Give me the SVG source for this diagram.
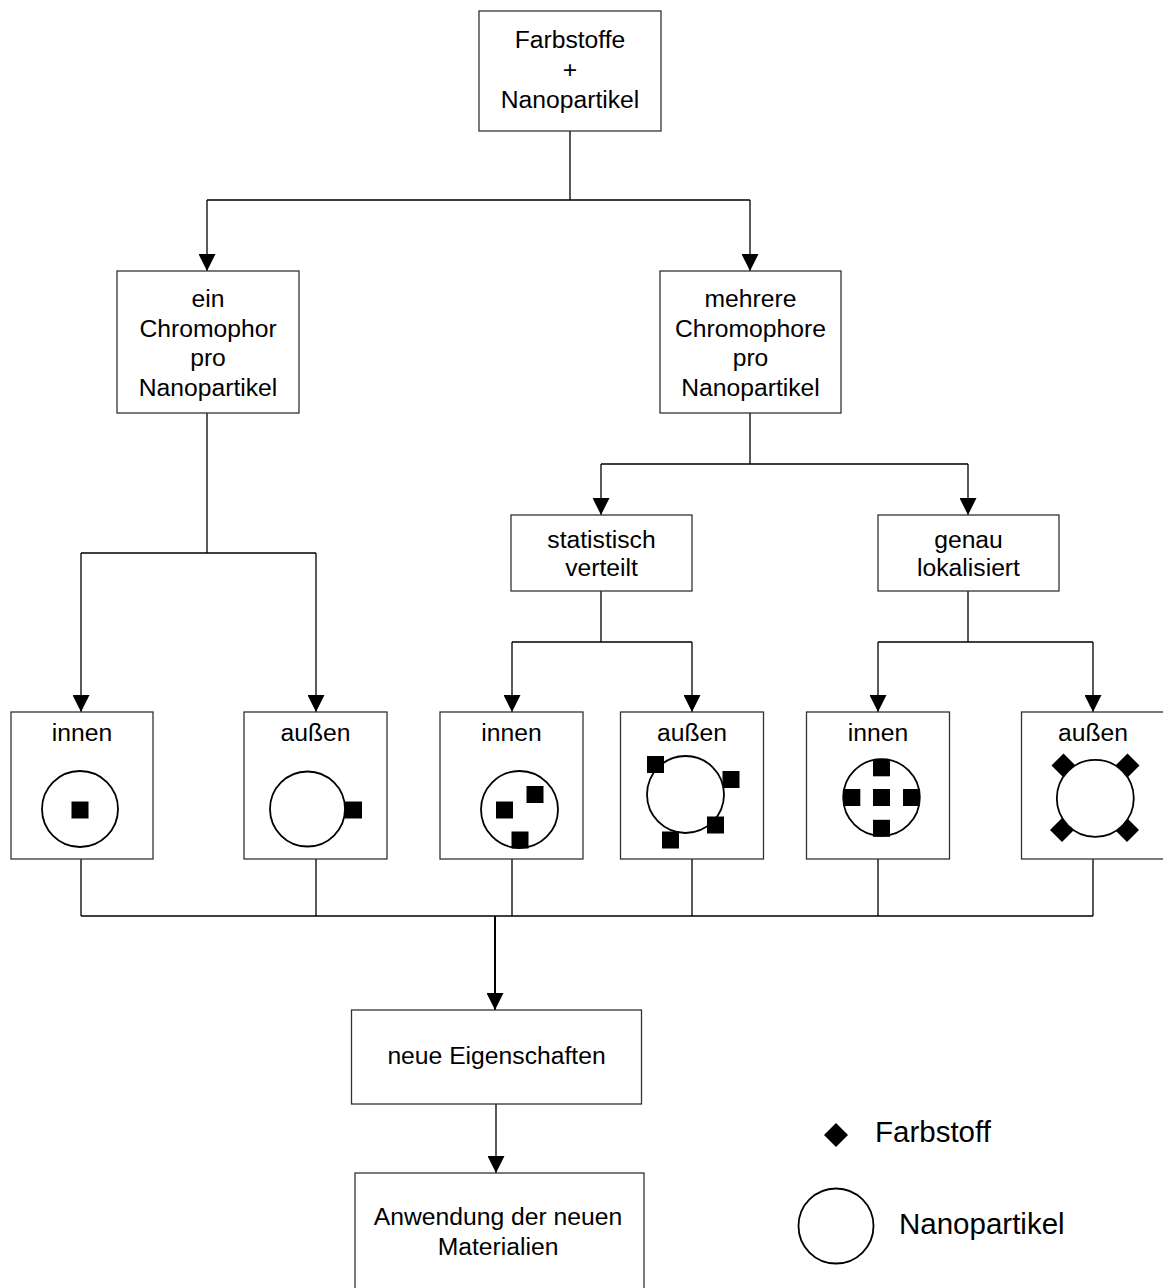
<svg xmlns="http://www.w3.org/2000/svg" width="1163" height="1288" viewBox="0 0 1163 1288">
  <defs>
    <style>
      .box { fill: #fff; stroke: #333; stroke-width: 1.3; }
      .lbl { font-family: "Liberation Sans", Arial, sans-serif; font-size: 24.7px; fill: #000; text-anchor: middle; }
      .leg { font-family: "Liberation Sans", Arial, sans-serif; font-size: 29.5px; fill: #000; }
      .wire { fill: none; stroke: #000; stroke-width: 1.3; }
      .bold { fill: none; stroke: #000; stroke-width: 2; }
      .np { fill: #fff; stroke: #000; stroke-width: 1.8; }
      .dye { fill: #000; }
    </style>
    <marker id="arrow" viewBox="0 0 17 17" refX="17" refY="8.5" markerWidth="17" markerHeight="17" markerUnits="userSpaceOnUse" orient="auto">
      <path d="M0,0 L17,8.5 L0,17 Z" fill="#000"/>
    </marker>
  </defs>
  <rect width="1163" height="1288" fill="#fff"/>

  <!-- connectors -->
  <g id="connectors">
    <path class="wire" d="M570,131 V200 M207,200 H750"/>
    <path class="wire" d="M207,200 V271" marker-end="url(#arrow)"/>
    <path class="wire" d="M750,200 V271" marker-end="url(#arrow)"/>

    <path class="wire" d="M207,413 V553 M81,553 H316"/>
    <path class="wire" d="M81,553 V712" marker-end="url(#arrow)"/>
    <path class="wire" d="M316,553 V712" marker-end="url(#arrow)"/>

    <path class="wire" d="M750,413 V464 M601,464 H968"/>
    <path class="wire" d="M601,464 V515" marker-end="url(#arrow)"/>
    <path class="wire" d="M968,464 V515" marker-end="url(#arrow)"/>

    <path class="wire" d="M601,591 V642 M512,642 H692"/>
    <path class="wire" d="M512,642 V712" marker-end="url(#arrow)"/>
    <path class="wire" d="M692,642 V712" marker-end="url(#arrow)"/>

    <path class="wire" d="M968,591 V642 M878,642 H1093"/>
    <path class="wire" d="M878,642 V712" marker-end="url(#arrow)"/>
    <path class="wire" d="M1093,642 V712" marker-end="url(#arrow)"/>

    <path class="wire" d="M81,859 V916 M316,859 V916 M512,859 V916 M692,859 V916 M878,859 V916 M1093,859 V916 M81,916 H1093"/>
    <path class="bold" d="M495,916 V1010" marker-end="url(#arrow)"/>
    <path class="wire" d="M496,1104 V1173" marker-end="url(#arrow)"/>
  </g>

  <!-- start -->
  <g id="start">
    <rect class="box" x="479" y="11" width="182" height="120"/>
    <text class="lbl" x="570" y="48">Farbstoffe</text>
    <text class="lbl" x="570" y="78">+</text>
    <text class="lbl" x="570" y="108">Nanopartikel</text>
  </g>

  <g id="single">
    <rect class="box" x="117" y="271" width="182" height="142"/>
    <text class="lbl" x="208" y="307">ein</text>
    <text class="lbl" x="208" y="336.5">Chromophor</text>
    <text class="lbl" x="208" y="366">pro</text>
    <text class="lbl" x="208" y="395.5">Nanopartikel</text>
  </g>

  <g id="multiple">
    <rect class="box" x="660" y="271" width="181" height="142"/>
    <text class="lbl" x="750.5" y="307">mehrere</text>
    <text class="lbl" x="750.5" y="336.5">Chromophore</text>
    <text class="lbl" x="750.5" y="366">pro</text>
    <text class="lbl" x="750.5" y="395.5">Nanopartikel</text>
  </g>

  <g id="random">
    <rect class="box" x="511" y="515" width="181" height="76"/>
    <text class="lbl" x="601.5" y="548">statistisch</text>
    <text class="lbl" x="601.5" y="576">verteilt</text>
  </g>

  <g id="located">
    <rect class="box" x="878" y="515" width="181" height="76"/>
    <text class="lbl" x="968.5" y="548">genau</text>
    <text class="lbl" x="968.5" y="576">lokalisiert</text>
  </g>

  <!-- one chromophore, inside -->
  <g id="single-inside">
    <rect class="box" x="11" y="712" width="142" height="147"/>
    <text class="lbl" x="82" y="741">innen</text>
    <circle class="np" cx="80" cy="809" r="38"/>
    <rect class="dye" x="71.5" y="801.5" width="17" height="17"/>
  </g>

  <!-- one chromophore, outside -->
  <g id="single-outside">
    <rect class="box" x="244" y="712" width="143" height="147"/>
    <text class="lbl" x="315.5" y="741">außen</text>
    <circle class="np" cx="307.5" cy="809" r="37.5"/>
    <rect class="dye" x="345" y="801.5" width="17" height="17"/>
  </g>

  <!-- random, inside -->
  <g id="random-inside">
    <rect class="box" x="440" y="712" width="143" height="147"/>
    <text class="lbl" x="511.5" y="741">innen</text>
    <circle class="np" cx="519.5" cy="809.5" r="38.5"/>
    <rect class="dye" x="496" y="801.5" width="17" height="17"/>
    <rect class="dye" x="526.5" y="786" width="17" height="17"/>
    <rect class="dye" x="511.5" y="831.5" width="17" height="17"/>
  </g>

  <!-- random, outside -->
  <g id="random-outside">
    <rect class="box" x="620.5" y="712" width="143" height="147"/>
    <text class="lbl" x="692" y="741">außen</text>
    <circle class="np" cx="685.5" cy="794.5" r="38.5"/>
    <rect class="dye" x="647" y="756" width="17" height="17"/>
    <rect class="dye" x="722.5" y="771" width="17" height="17"/>
    <rect class="dye" x="707" y="816.5" width="17" height="17"/>
    <rect class="dye" x="662" y="831.5" width="17" height="17"/>
  </g>

  <!-- located, inside -->
  <g id="located-inside">
    <rect class="box" x="806.5" y="712" width="143" height="147"/>
    <text class="lbl" x="878" y="741">innen</text>
    <circle class="np" cx="881.5" cy="797.5" r="38.3"/>
    <rect class="dye" x="873" y="789" width="17" height="17"/>
    <rect class="dye" x="873" y="759.3" width="17" height="17"/>
    <rect class="dye" x="873" y="819.8" width="17" height="17"/>
    <rect class="dye" x="843.3" y="789" width="17" height="17"/>
    <rect class="dye" x="903" y="789" width="17" height="17"/>
  </g>

  <!-- located, outside -->
  <g id="located-outside">
    <rect class="box" x="1021.5" y="712" width="143" height="147"/>
    <text class="lbl" x="1093" y="741">außen</text>
    <rect class="dye" x="1055" y="757" width="17" height="17" transform="rotate(45 1063.5 765.5)"/>
    <rect class="dye" x="1119" y="757" width="17" height="17" transform="rotate(45 1127.5 765.5)"/>
    <rect class="dye" x="1053.5" y="821.5" width="17" height="17" transform="rotate(45 1062 830)"/>
    <rect class="dye" x="1118.5" y="821.5" width="17" height="17" transform="rotate(45 1127 830)"/>
    <circle class="np" cx="1095.3" cy="798.3" r="38.5"/>
  </g>

  <g id="properties">
    <rect class="box" x="351.5" y="1010" width="290" height="94"/>
    <text class="lbl" x="496.5" y="1064">neue Eigenschaften</text>
  </g>

  <g id="application">
    <rect class="box" x="355" y="1173" width="289" height="130"/>
    <text class="lbl" x="498" y="1225">Anwendung der neuen</text>
    <text class="lbl" x="498" y="1255">Materialien</text>
  </g>

  <!-- legend -->
  <g id="legend">
    <rect class="dye" x="827.5" y="1126.5" width="17" height="17" transform="rotate(45 836 1135)"/>
    <text class="leg" x="875" y="1142">Farbstoff</text>
    <circle class="np" cx="836" cy="1226" r="37.5"/>
    <text class="leg" x="899" y="1234">Nanopartikel</text>
  </g>
</svg>
